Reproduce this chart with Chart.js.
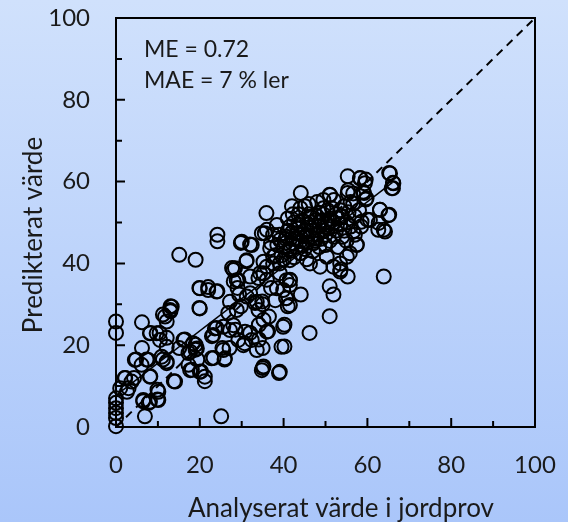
<!DOCTYPE html>
<html>
<head>
<meta charset="utf-8">
<script src="https://cdn.jsdelivr.net/npm/chart.js@4"></script>
<style>
  html, body { margin: 0; padding: 0; }
  body { width: 568px; height: 522px; overflow: hidden; background: linear-gradient(#d0e1fc, #aac6fa); }
</style>
</head>
<body>
<canvas id="chart" width="568" height="522"></canvas>
<script>
/* scatter: analysed vs predicted clay */

var analyserat = [
  0, 0, 0, 0, 0, 0, 0, 0,
  2.2, 3, 4.3, 4.8, 6.2, 6.2, 7.3, 8.2, 8.2, 6.5, 7.8, 6.9, 9.9, 9.9, 10.4, 11.2, 12.1, 13, 13,
  12.1, 11.2, 12.1, 13.8, 15.1, 19, 16.4, 15.1, 17.3, 19, 19, 18.1, 20.3, 21.2, 19.4, 19.9, 22,
  19.9, 24.2, 22.9, 24, 24.2, 24.2, 25.1, 23.3, 25.9, 25.4, 27.1, 26.8, 27.7, 28.1, 29, 29.4,
  29.8, 32, 31.1, 28.5, 29.8, 30.7, 32, 33.2, 34, 34.9, 35.9, 35.5, 34.1, 35, 35, 36.3, 34.1,
  38.9, 40.2, 40.2, 40.6, 41, 41.5, 44.1, 46.2, 44.1, 51, 51, 51.9, 53.6, 55.3, 63.9, 63.9, 63,
  65.2, 65.2, 66.1, 66.1, 55.3, 58.3, 59.6, 59.2, 59.6, 55.3, 51, 53.6, 60, 62.7, 57.5, 55.8,
  2.1, 3.7, 2.6, 1, 6.1, 4.5, 7.7, 8.1, 10.1, 10.1, 6.5, 8.1, 11.7, 12.9, 13.3, 10.5, 12.1,
  10.9, 12.1, 14.1, 8.1, 9.7,
  45.1, 42.2, 46.3, 48.7, 38.4, 36, 34.8, 41.5, 43.1, 30, 32.4, 39.1, 40.7, 45.5, 47.1, 36.8,
  37.5, 35.2, 31.2, 28.4, 36, 39.1, 41.5, 43.9, 46.3, 48.7, 35.2, 32, 28.8, 40.7, 41.5, 39.9, 32,
  58.2, 59.4, 51.1, 55.4, 56.6, 59, 59.8, 65.4, 66.2, 65.8, 63, 65, 62.6, 64.2, 60.6, 58.6, 56.6,
  57.4, 55.1, 53.5, 51.9, 53.5, 50.3, 56.6,
  28, 29.2, 34.4, 37.5, 39.1, 41.5, 20, 22, 24, 20, 27.2, 28.8, 31.2, 33.6, 34, 38.4, 40.7, 41.5,
  39.9, 39.5, 34.8, 39.1, 35.2, 36, 32.4, 33.6, 27.2, 28, 25.6, 23.6, 23.2, 30.8, 30.4, 29.2,
  16.1, 18.4, 19.3, 17.7, 22.8, 25.6, 26, 17.3, 17.7, 20, 21.2, 35.2,
  40, 40.5, 41, 41.5, 42, 42, 42.5, 43, 43, 43.5, 44, 44, 44.5, 44.5, 45, 45, 45.5, 46, 46, 46.5,
  47, 47, 47.5, 47.5, 48, 48, 48.5, 48.5, 49, 49, 49.5, 49.5, 50, 50, 50, 50.5, 50.5, 51, 51,
  51.5, 51.5, 52, 52, 52.5, 52.5, 53, 53, 53.5, 53.5, 54, 54, 54.5, 54.5, 55, 55, 55.5, 56, 56,
  57, 57, 58, 58.5, 38, 38.5, 39, 39.5, 37, 37.5, 40, 42.5, 45.5, 46, 48, 49.5, 52, 44, 42, 41,
  43.5, 35, 36.5, 38, 36, 37,
  40.5, 41.5, 42.5, 43.5, 44.5, 45.5, 46.5, 47.5, 48.5, 49.5, 50.5, 51.5
];
var predikterat = [
  25.8, 23, 7, 5.9, 4.6, 3.4, 2.2, 0.2,
  12, 9.5, 12, 16.5, 25.6, 19.3, 16.5, 23, 12.4, 6.3, 5.9, 2.6, 9.1, 6.7, 23, 27.5, 25.8, 29.5, 28.3,
  21.8, 16.5, 15.6, 11.2, 42.1, 40.9, 21.4, 19.3, 18.1, 20.1, 18.9, 14, 13.6, 11.2, 16.5, 34, 34.2,
  29.1, 33.2, 22.2, 24.2, 47, 45.4, 2.6, 16.9, 16.5, 19.3, 19.3, 27.9, 38.9, 35.6, 34, 32.4,
  45, 44.6, 40.5, 23.8, 29.5, 20.5, 23, 30.3, 36.4, 30.7, 52.3, 47.4, 25, 19.3, 14.4, 23.4, 21.4,
  13.2, 19.7, 25, 31.5, 29.5, 36, 32.4, 23, 57.2, 27.1, 34.4, 32.4, 38.5, 36.8, 36.8, 48.2, 53.1,
  51.9, 62.1, 59.7, 58.4, 61.3, 60.9, 60.5, 57.2, 55.6, 57.2, 56.8, 51.5, 50.7, 49.9, 44.6, 42.5,
  12, 11.1, 8.6, 9.5, 15.2, 16.4, 16.4, 12.3, 8.6, 6.6, 6.6, 6.2, 27, 28.6, 29.4, 21.3, 19.6,
  17.2, 16, 11.1, 22.9, 22.9,
  54, 52, 51.4, 52.3, 49.4, 48.2, 47.4, 49, 47.4, 45.3, 44.5, 45.7, 46.5, 46.5, 44.9, 43.7,
  41.6, 40.4, 40.8, 38.8, 39.2, 40, 40.8, 42.5, 40, 39.2, 37.6, 36.8, 35.9, 35.9, 34.7, 33.5, 32.7,
  60.8, 59.6, 56.7, 57.9, 57.1, 57.5, 55.9, 62, 59.6, 58.4, 53.1, 51.8, 48.2, 47.8, 50.6, 50.2, 47.8,
  44.5, 41.6, 40, 39.2, 38, 41.6, 54.7,
  38.4, 35.9, 37.6, 40, 37.6, 35.9, 33.9, 33.5, 33.1, 29, 30.6, 28.6, 31.9, 30.6, 28.6, 33.9, 31.5, 29.8,
  24.5, 19.6, 13.9, 13.5, 26.2, 23.3, 21.3, 18.8, 23.7, 24.9, 24.5, 24.1, 22.5, 23.3, 20, 21.3,
  21.3, 20.5, 19.2, 18.4, 16.8, 18.8, 16.8, 15.2, 13.9, 13.5, 12.3, 14.8,
  44, 46, 48, 43, 45, 47.5, 50, 44, 46, 48.5, 42.5, 45.5, 47, 50.5, 43.5, 48, 45, 49.5, 52, 46.5,
  43, 48, 50.5, 45.5, 47, 51.5, 44, 49, 46, 50.5, 52, 48, 44.5, 47, 50, 53, 48.5, 45.5, 51,
  49, 53.5, 46.5, 50, 52, 48, 44, 51, 53, 49.5, 46.5, 51.5, 48, 54, 50, 45.5, 52.5, 49, 55,
  51.5, 47, 53, 49, 42, 44.5, 47, 42, 45, 47, 41, 41.5, 41, 54.5, 55, 55.5, 55.5, 53.5, 54, 51,
  52, 30, 27, 31, 36, 34,
  45, 43.5, 46, 49.5, 44.5, 47, 50, 46, 50, 53.5, 49.5, 50.5
];

// 1:1 line and linear trend through the cloud
var linjeX = [0, 100];
var linjeY = [0, 100];
var trendX = [0, 66];
var trendY = [7.7, 59.8];

var axisTicks = [0, 10, 20, 30, 40, 50, 60, 70, 80, 90, 100];

var FONT = 'Lato, "Open Sans", sans-serif';
var INK = '#1a1a1a';

function toPoints(xs, ys) {
  return xs.map(function (x, i) { return { x: x, y: ys[i] }; });
}

var framePlugin = {
  id: 'frame',
  afterDraw: function (chart) {
    var ctx = chart.ctx;
    var a = chart.chartArea;
    var xs = chart.scales.x, ys = chart.scales.y;
    ctx.save();
    ctx.strokeStyle = '#000';
    ctx.lineWidth = 2;
    ctx.strokeRect(a.left, a.top, a.right - a.left, a.bottom - a.top);
    ctx.beginPath();
    axisTicks.forEach(function (v) {
      var len = v % 20 === 0 ? 9 : 6;
      var px = xs.getPixelForValue(v);
      ctx.moveTo(px, a.bottom);
      ctx.lineTo(px, a.bottom - len);
      var py = ys.getPixelForValue(v);
      ctx.moveTo(a.left, py);
      ctx.lineTo(a.left + len, py);
    });
    ctx.stroke();

    ctx.fillStyle = INK;
    ctx.font = '23px ' + FONT;
    ctx.textAlign = 'left';
    ctx.textBaseline = 'alphabetic';
    ctx.fillText('ME = 0.72', a.left + 28, 57);
    ctx.fillText('MAE = 7 % ler', a.left + 28, 88);

    ctx.font = '26px ' + FONT;
    ctx.textAlign = 'center';
    ctx.fillText('Analyserat värde i jordprov', 341, 517);
    ctx.translate(34, 235);
    ctx.rotate(-Math.PI / 2);
    ctx.textBaseline = 'middle';
    ctx.fillText('Predikterat värde', 0, 0);
    ctx.restore();
  }
};

function tickLabel(v) { return v % 20 === 0 ? v : ''; }

function noOverflow(s) {
  s.paddingTop = 0; s.paddingBottom = 0; s.paddingLeft = 0; s.paddingRight = 0;
}

new Chart(document.getElementById('chart'), {
  type: 'scatter',
  data: {
    datasets: [
      {
        data: toPoints(analyserat, predikterat),
        pointStyle: 'circle', pointRadius: 7, borderWidth: 2,
        borderColor: '#000', backgroundColor: 'rgba(0,0,0,0)', clip: false
      },
      {
        type: 'line', data: toPoints(linjeX, linjeY),
        borderColor: '#000', borderWidth: 2, borderDash: [8, 6], pointRadius: 0, fill: false
      },
      {
        type: 'line', data: toPoints(trendX, trendY),
        borderColor: '#000', borderWidth: 1.5, pointRadius: 0, fill: false
      }
    ]
  },
  options: {
    responsive: false, devicePixelRatio: 1, animation: false, events: [],
    layout: { padding: { top: 18, right: 33, left: 0, bottom: 0 } },
    plugins: { legend: { display: false }, tooltip: { enabled: false } },
    scales: {
      x: {
        type: 'linear', min: 0, max: 100,
        grid: { display: false, drawTicks: false }, border: { display: false },
        ticks: { stepSize: 10, autoSkip: false, maxRotation: 0, padding: 24, color: INK,
          font: { family: FONT, size: 24 }, callback: tickLabel },
        afterFit: function (s) { s.height = 95; noOverflow(s); }
      },
      y: {
        type: 'linear', min: 0, max: 100,
        grid: { display: false, drawTicks: false }, border: { display: false },
        ticks: { stepSize: 10, autoSkip: false, padding: 26, color: INK,
          font: { family: FONT, size: 24 }, callback: tickLabel },
        afterFit: function (s) { s.width = 116; noOverflow(s); }
      }
    }
  },
  plugins: [framePlugin]
});
</script>
</body>
</html>
